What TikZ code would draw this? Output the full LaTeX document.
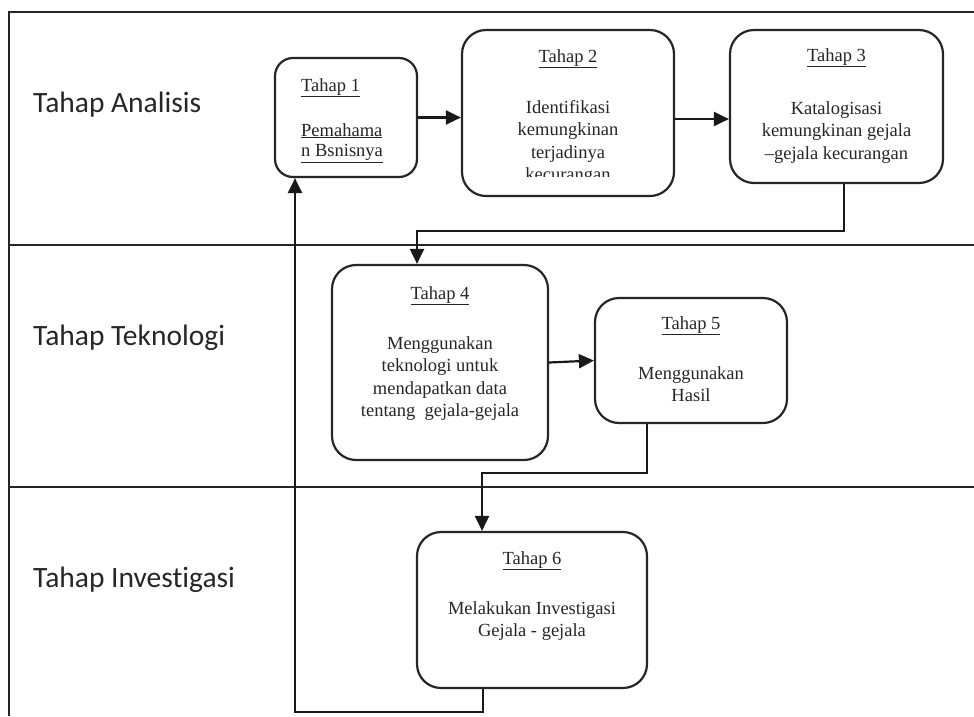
\documentclass[tikz,border=0pt]{standalone}
\usepackage{fontspec}
\setmainfont{Liberation Serif}[Ligatures={TeX,NoCommon}]
\newfontfamily\lanefont{Carlito}[Ligatures={TeX,NoCommon}]
\usetikzlibrary{arrows.meta}
\begin{document}
\begin{tikzpicture}[x=1pt,y=-1pt,
  lane/.style={line width=2.2pt, draw=black!85},
  box/.style={draw=black!85, line width=2.2pt, rounded corners=24pt, fill=white, inner sep=0pt},
  boxtext/.style={font=\fontsize{18.5}{22.5}\selectfont, text=black!85, align=center, inner sep=0pt, anchor=north},
  lanelabel/.style={font=\lanefont\fontsize{29.5}{33}\selectfont, text=black!85, anchor=west, inner sep=0pt},
  conn/.style={line width=2.2pt, draw=black!90},
  arr/.style={conn, -{Triangle[length=15pt,width=14pt]}}]
\useasboundingbox (0,0) rectangle (974,716);

% swimlanes
\draw[lane] (974,12) -- (9,12) -- (9,716);
\draw[lane] (9,245) -- (974,245);
\draw[lane] (9,487) -- (974,487);

\node[lanelabel] (l1) at (33,105) {Tahap Analisis};
\node[lanelabel] (l2) at (33,338) {Tahap Teknologi};
\node[lanelabel] (l3) at (33,580) {Tahap Investigasi};

% boxes
\node[box, rounded corners=18pt, minimum width=142pt, minimum height=119pt] (t1) at (346,117.5) {};
\node[box, minimum width=212pt, minimum height=166pt] (t2) at (568,113) {};
\node[box, minimum width=213pt, minimum height=153pt] (t3) at (836.5,106.5) {};
\node[box, minimum width=216pt, minimum height=195pt] (t4) at (440,362.5) {};
\node[box, minimum width=192pt, minimum height=125pt] (t5) at (691,360.5) {};
\node[box, minimum width=230pt, minimum height=156pt] (t6) at (532,610) {};

% box texts
\node[boxtext, align=left, anchor=north west, font=\fontsize{18.5}{20.5}\selectfont] (t1txt) at (301,78)
  {\underline{Tahap 1}\\[24.5pt]\underline{Pemahama}\\\underline{n Bsnisnya}};
\begin{scope}
  \clip (462,30) rectangle (674,176);
  \node[boxtext] (t2txt) at (568,49)
    {\underline{Tahap 2}\\[28.5pt]Identifikasi\\kemungkinan\\terjadinya\\kecurangan};
\end{scope}
\node[boxtext] (t3txt) at (836.5,48)
  {\underline{Tahap 3}\\[30.5pt]Katalogisasi\\kemungkinan gejala\\–gejala kecurangan};
\node[boxtext] (t4txt) at (440,286)
  {\underline{Tahap 4}\\[27.5pt]Menggunakan\\teknologi untuk\\mendapatkan data\\tentang\ \ gejala-gejala};
\node[boxtext] (t5txt) at (691,316)
  {\underline{Tahap 5}\\[27.5pt]Menggunakan\\Hasil};
\node[boxtext] (t6txt) at (532,551)
  {\underline{Tahap 6}\\[27.5pt]Melakukan Investigasi\\Gejala - gejala};

% connectors
\draw[arr] (t1.east) -- (t1.east -| t2.west);
\coordinate (a23) at (700,119);
\draw[arr] (t2.east |- a23) -- (t3.west |- a23);
\coordinate (k3) at (844,231);
\coordinate (k4) at (417,0);
\draw[arr] (t3.south -| k3) -- (k3) -| (t4.north -| k4);
\draw[arr] (t4.east) -- (t5.west);
\coordinate (k5) at (647,473);
\coordinate (k6) at (482,0);
\draw[arr] (t5.south -| k5) -- (k5) -| (t6.north -| k6);
\coordinate (k7) at (483,712);
\coordinate (k8) at (295,0);
\draw[arr] (t6.south -| k7) -- (k7) -| (t1.south -| k8);
\end{tikzpicture}
\end{document}
